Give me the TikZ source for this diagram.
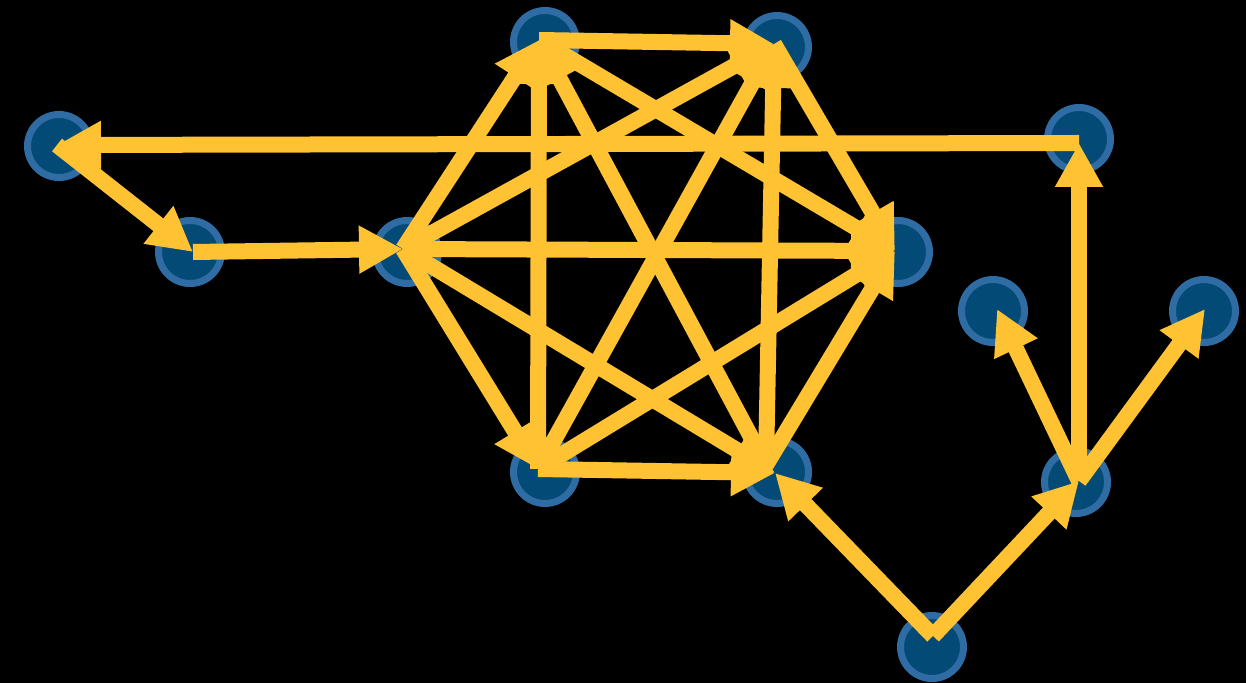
\documentclass[tikz,border=0pt]{standalone}
\usetikzlibrary{arrows.meta}
\definecolor{ring}{HTML}{2E6CA3}
\definecolor{core}{HTML}{034B76}
\definecolor{edge}{HTML}{FFC232}
\begin{document}
\begin{tikzpicture}[x=0.5pt,y=-0.5pt,
  vert/.style={circle, minimum size=31.5pt, inner sep=0pt, draw=ring, fill=core, line width=3.5pt},
  link/.style={draw=edge, line width=8pt, line cap=butt, line join=miter,
    -{Triangle[length=22pt,width=22.5pt]}, edge}]
\fill[black] (0,0) rectangle (1246,683);
\useasboundingbox (0,0) rectangle (1246,683);
% nodes
\node[vert] (A) at (59,146) {};
\node[vert] (B) at (190,252) {};
\node[vert] (C) at (407,252) {};
\node[vert] (D) at (545,42) {};
\node[vert] (E) at (777,47) {};
\node[vert] (F) at (898,252) {};
\node[vert] (G) at (545,472) {};
\node[vert] (H) at (777,472) {};
\node[vert] (I) at (1079,139) {};
\node[vert] (J) at (993,311) {};
\node[vert] (K) at (1204,311) {};
\node[vert] (L) at (1076,482) {};
\node[vert] (M) at (932,647) {};
% ports
\coordinate (pA) at (57,145);
\coordinate (pB) at (193,252);
\coordinate (pC) at (403,249);
\coordinate (pD) at (539,40);
\coordinate (pE) at (774,44);
\coordinate (pF) at (895,251);
\coordinate (pG) at (538,469);
\coordinate (pH) at (775,473);
\coordinate (qH) at (766,465);
\coordinate (pI) at (1079,143);
\coordinate (pJ) at (997,309);
\coordinate (pK) at (1205,309);
\coordinate (pL) at (1079,481);
\coordinate (pM) at (933,636);
% connectors
\draw[link] (pC) -- (pD);
\draw[link] (pC) -- (pE);
\draw[link] (pC) -- (pF);
\draw[link] (pC) -- (pG);
\draw[link] (pC) -- (pH);
\draw[link] (pG) -- (pD);
\draw[link] (pG) -- (pE);
\draw[link] (pG) -- (pF);
\draw[link] (qH) -- (pD);
\draw[link] (qH) -- (pE);
\draw[link] (qH) -- (pF);
\draw[link] (pD) -- (pF);
\draw[link] (pE) -- (pF);
\draw[link] (pD) -- (pE);
\draw[link] (pG) -- (pH);
\draw[link] (pI) -- (pA);
\draw[link] (pA) -- (pB);
\draw[link] (pB) -- (pC);
\draw[link] (pL) -- (pI);
\draw[link] (pL) -- (pJ);
\draw[link] (pL) -- (pK);
\draw[link] (pM) -- (pL);
\draw[link] (pM) -- (pH);
\end{tikzpicture}
\end{document}
